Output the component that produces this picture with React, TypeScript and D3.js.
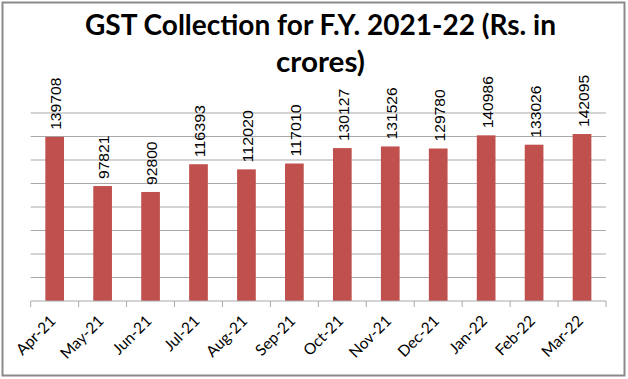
import React from "react";
import * as d3 from "d3";

const months = ["Apr-21","May-21","Jun-21","Jul-21","Aug-21","Sep-21","Oct-21","Nov-21","Dec-21","Jan-22","Feb-22","Mar-22"];
const collections = [139708, 97821, 92800, 116393, 112020, 117010, 130127, 131526, 129780, 140986, 133026, 142095];
const yTicks = [0, 20000, 40000, 60000, 80000, 100000, 120000, 140000, 160000];
const titleLines = ["GST Collection for F.Y. 2021-22 (Rs. in", "crores)"];

const W = 628, H = 379;
const left = 30.7, right = 606, top = 113, bottom = 301;

export default function App() {
  const x = d3.scaleBand<string>().domain(months).range([left, right]).padding(0);
  const y = d3.scaleLinear().domain([0, 160000]).range([bottom, top]);
  const bw = x.bandwidth() * 0.39;
  const boundaries = months.map((m) => x(m) as number).concat([right]);

  return (
    <svg width={W} height={H} style={{ position: "absolute", left: 0, top: 0 }}>
      <rect x={0} y={0} width={W} height={H} fill="#fff" />
      <rect x={2.5} y={2.5} width={622} height={373} fill="#fff" stroke="#8a8a8a" strokeWidth={2} />
      {titleLines.map((t, i) => (
        <text key={i} x={320.5} y={34.5 + i * 37.5} textAnchor="middle"
          fontFamily="Lato, 'Open Sans', sans-serif" fontWeight="bold" fontSize={28} fill="#000"
          textLength={i === 0 ? 471 : 89} lengthAdjust="spacingAndGlyphs">{t}</text>
      ))}
      {yTicks.filter((v) => v > 0).map((v) => (
        <line key={v} x1={left} x2={right} y1={y(v)} y2={y(v)} stroke="#a9a9a9" strokeWidth={1} />
      ))}
      {months.map((m, i) => {
        const cx = (x(m) as number) + x.bandwidth() / 2;
        return (
          <rect key={m} x={cx - bw / 2} y={y(collections[i])} width={bw}
            height={bottom - y(collections[i])} fill="#C0504D" />
        );
      })}
      <line x1={left} x2={right} y1={bottom} y2={bottom} stroke="#a9a9a9" strokeWidth={1} />
      {boundaries.map((b, i) => (
        <line key={i} x1={b} x2={b} y1={bottom} y2={bottom + 6} stroke="#a9a9a9" strokeWidth={1} />
      ))}
      {months.map((m, i) => {
        const cx = (x(m) as number) + x.bandwidth() / 2;
        const ty = y(collections[i]) - 7;
        const s = String(collections[i]);
        return (
          <text key={m} transform={`translate(${cx + 1},${ty}) rotate(-90)`} dy="0.36em"
            fontFamily="'Liberation Sans', Arial, sans-serif" fontSize={15.5} fill="#000"
            textLength={s.length * 8.7} lengthAdjust="spacingAndGlyphs">
            {s}
          </text>
        );
      })}
      {months.map((m) => {
        const cx = (x(m) as number) + x.bandwidth() / 2;
        return (
          <text key={m} transform={`translate(${cx + 2},${322}) rotate(-45)`} textAnchor="end"
            fontFamily="Lato, 'Open Sans', sans-serif" fontSize={15.5} fill="#000">
            {m}
          </text>
        );
      })}
    </svg>
  );
}
